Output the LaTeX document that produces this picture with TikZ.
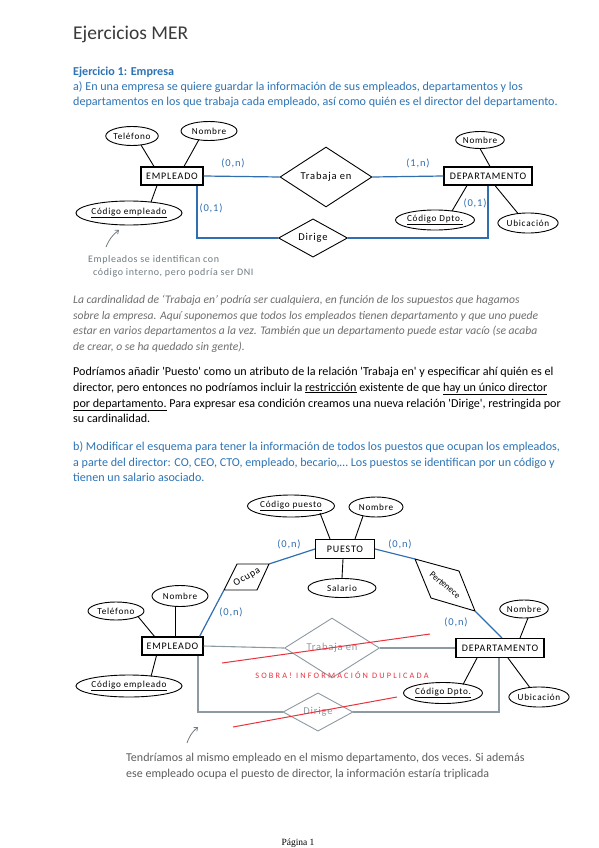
\documentclass[tikz,border=0pt]{standalone}
\usepackage{fontspec}
\setmainfont{Carlito}
\newfontfamily\handfont[LetterSpace=8]{Carlito}
\newfontfamily\notefont[LetterSpace=6]{Carlito}
\newfontfamily\plainhand{Carlito}
\newfontfamily\spacedfont[LetterSpace=26]{Carlito}
\newfontfamily\pagefont{Liberation Serif}
\usetikzlibrary{shapes.geometric,arrows.meta}
\definecolor{hblue}{HTML}{2E74B5}
\definecolor{dblue}{HTML}{2F6EB1}
\definecolor{itgray}{HTML}{6E6E6E}
\definecolor{dgray}{HTML}{8D9AA1}
\definecolor{rred}{HTML}{E8333F}
\definecolor{ngray}{HTML}{6F7A80}
\definecolor{titlegray}{HTML}{3A3A3A}
\definecolor{btgray}{HTML}{5E5E5E}
\newcommand{\bodysize}{\fontsize{12.1}{14}\selectfont}
\newcommand{\itsize}{\fontsize{11.6}{14}\selectfont}
\newcommand{\bluesize}{\fontsize{12.1}{14}\selectfont}
\newcommand{\sq}{\textquotesingle}
\begin{document}
\begin{tikzpicture}[x=1pt,y=-1pt,
  txt/.style={anchor=base west, inner sep=0pt, font=\bodysize},
  itxt/.style={anchor=base west, inner sep=0pt, font=\itsize\itshape, text=itgray},
  btxt/.style={anchor=base west, inner sep=0pt, font=\bluesize, text=hblue},
  entity/.style={draw, line width=1.1pt, rectangle, inner sep=0pt, font=\handfont\fontsize{10}{11}\selectfont},
  attr/.style={draw, ellipse, inner sep=0pt, line width=0.9pt, font=\handfont\fontsize{9.2}{10}\selectfont},
  rel/.style={draw, diamond, inner sep=0pt, line width=0.9pt, font=\handfont\fontsize{10.5}{11}\selectfont},
  grel/.style={rel, draw=dgray, text=dgray},
  conn/.style={line width=0.9pt},
  bconn/.style={draw=dblue, line width=1.2pt},
  gconn/.style={draw=dgray, line width=1.1pt},
  card/.style={text=dblue, inner sep=0pt, font=\handfont\fontsize{10.5}{11}\selectfont},
  notetxt/.style={anchor=base west, inner sep=0pt, text=ngray, font=\notefont\fontsize{10}{11}\selectfont},
  notearrow/.style={draw=ngray, line width=0.8pt, -{Straight Barb[length=3pt,width=5pt]}},
  redline/.style={draw=rred, line width=1pt}
]
\fill[white] (0,0) rectangle (599,848);
\useasboundingbox (0,0) rectangle (599,848);

% ---------- texts ----------
\node[txt, font=\fontsize{19.5}{22}\selectfont, text=titlegray] (title) at (73,40) {Ejercicios MER};
\node[btxt, font=\bluesize\bfseries] (ej1) at (73,76) {Ejercicio 1: Empresa};
\node[btxt] (a1) at (73,91) {a) En una empresa se quiere guardar la información de sus empleados, departamentos y los};
\node[btxt] (a2) at (73,106) {departamentos en los que trabaja cada empleado, así como quién es el director del departamento.};

\node[itxt] (i1) at (73,303) {La cardinalidad de ‘Trabaja en’ podría ser cualquiera, en función de los supuestos que hagamos};
\node[itxt] (i2) at (73,319) {sobre la empresa. Aquí suponemos que todos los empleados tienen departamento y que uno puede};
\node[itxt] (i3) at (73,334) {estar en varios departamentos a la vez. También que un departamento puede estar vacío (se acaba};
\node[itxt] (i4) at (73,350) {de crear, o se ha quedado sin gente).};

\node[txt] (p1) at (73,375) {Podríamos añadir \sq Puesto\sq{} como un atributo de la relación \sq Trabaja en\sq{} y especificar ahí quién es el};
\node[txt] (p2) at (73,391) {director, pero entonces no podríamos incluir la \underline{restricción} existente de que \underline{hay un único director}};
\node[txt] (p3) at (73,407) {\underline{por departamento.} Para expresar esa condición creamos una nueva relación \sq Dirige\sq, restringida por};
\node[txt] (p4) at (73,422) {su cardinalidad.};

\node[btxt] (b1) at (73,450) {b) Modificar el esquema para tener la información de todos los puestos que ocupan los empleados,};
\node[btxt] (b2) at (73,466) {a parte del director: CO, CEO, CTO, empleado, becario,… Los puestos se identifican por un código y};
\node[btxt] (b3) at (73,481) {tienen un salario asociado.};

\node[txt, font=\fontsize{12}{14}\selectfont, text=btgray] (q1) at (126,761) {Tendríamos al mismo empleado en el mismo departamento, dos veces. Si además};
\node[txt, font=\fontsize{12}{14}\selectfont, text=btgray] (q2) at (126,777) {ese empleado ocupa el puesto de director, la información estaría triplicada};

\node[anchor=base, inner sep=0pt, font=\pagefont\fontsize{9.5}{11}\selectfont] (pg) at (298,845) {Página 1};

% ---------- top diagram ----------
\node[entity, minimum width=62, minimum height=18] (emp) at (172,176) {EMPLEADO};
\node[attr, minimum width=52, minimum height=19] (tel) at (132,136) {Teléfono};
\node[attr, minimum width=56, minimum height=19] (nom) at (209,131) {Nombre};
\node[attr, minimum width=92, minimum height=24] (cod) at (129,213) {\underline{Código empleado}};
\node[rel, minimum width=92, minimum height=39] (trab) at (326,177) {Trabaja en};
\node[entity, minimum width=88, minimum height=18] (dep) at (488,176) {DEPARTAMENTO};
\node[attr, minimum width=46, minimum height=17] (dnom) at (480,140) {Nombre};
\node[attr, minimum width=76, minimum height=20] (dcod) at (435,220) {\underline{Código Dpto.}};
\node[attr, minimum width=58, minimum height=20] (ubi) at (528,223) {Ubicación};
\node[rel, minimum width=69, minimum height=32] (dir) at (313,238) {Dirige};

\draw[conn] ([shift={(9,9)}]tel.center) -- ([xshift=-18]emp.north);
\draw[conn] ([shift={(-10,8.5)}]nom.center) -- ([xshift=12]emp.north);
\draw[conn] ([xshift=-15]emp.south) -- ([shift={(22,-11)}]cod.center);
\draw[bconn] (emp.east) -- (trab.west);
\draw[bconn] ([xshift=25]emp.south) |- (dir.west);
\draw[bconn] (trab.east) -- (dep.west);
\draw[bconn] (dep.south) |- (dir.east);
\draw[conn] ([shift={(0,8.5)}]dnom.center) -- ([xshift=2]dep.north);
\draw[conn] ([xshift=-21]dep.south) -- ([shift={(17,-9)}]dcod.center);
\draw[conn] ([xshift=7]dep.south) -- ([shift={(-10,-9.5)}]ubi.center);

\node[card] (c1) at (233,163) {(0,n)};
\node[card] (c2) at (211,208) {(0,1)};
\node[card] (c3) at (418,163) {(1,n)};
\node[card] (c4) at (475,203) {(0,1)};

\coordinate (a1t) at (106,247);
\coordinate (a1h) at (119,230);
\draw[notearrow] (a1t) to[bend left=15] (a1h);
\node[notetxt] (n1) at (88,262) {Empleados se identifican con};
\node[notetxt] (n2) at (93,275) {código interno, pero podría ser DNI};

% ---------- bottom diagram ----------
\node[attr, minimum width=77, minimum height=22] (bcp) at (291,506) {\underline{Código puesto}};
\node[attr, minimum width=54, minimum height=20] (bpn) at (376,507) {Nombre};
\node[entity, minimum width=59, minimum height=19] (pue) at (345,549) {PUESTO};
\node[attr, minimum width=68, minimum height=19] (sal) at (342,588) {Salario};
\draw[conn] ([shift={(29,7)}]bcp.center) -- ([xshift=-15]pue.north);
\draw[conn] ([shift={(-13,9)}]bpn.center) -- ([xshift=10]pue.north);
\draw[conn] ([xshift=-2]pue.south) -- (sal.north);

\node[entity, minimum width=61, minimum height=18] (emp2) at (172.5,646) {EMPLEADO};
\node[attr, minimum width=56, minimum height=18] (btel) at (116,611) {Teléfono};
\node[attr, minimum width=56, minimum height=21] (bnom) at (180,596) {Nombre};
\node[attr, minimum width=94, minimum height=22] (bcod) at (129,686) {\underline{Código empleado}};
\draw[conn] ([shift={(22,5.5)}]btel.center) -- ([xshift=-18]emp2.north);
\draw[conn] ([shift={(-5,10.5)}]bnom.center) -- ([xshift=2.5]emp2.north);
\draw[conn] ([xshift=-16]emp2.south) -- ([shift={(22,-9.5)}]bcod.center);

\node[entity, minimum width=88, minimum height=19] (dep2) at (500,648) {DEPARTAMENTO};
\node[attr, minimum width=48, minimum height=18] (bdnom) at (524,609) {Nombre};
\node[attr, minimum width=76, minimum height=21] (bdcod) at (443,693) {\underline{Código Dpto.}};
\node[attr, minimum width=56, minimum height=20] (bubi) at (539,697) {Ubicación};
\draw[conn] ([shift={(4,9)}]bdnom.center) -- ([xshift=20]dep2.north);
\draw[conn] ([xshift=-23]dep2.south) -- ([shift={(20,-8.5)}]bdcod.center);
\draw[conn] ([xshift=8]dep2.south) -- ([shift={(-9,-9.3)}]bubi.center);

\node[grel, minimum width=95, minimum height=40] (trab2) at (332,648) {Trabaja en};
\node[grel, minimum width=70, minimum height=30] (dir2) at (318,712) {Dirige};
\draw[gconn] (emp2.east) -- (trab2.west);
\draw[gconn] (trab2.east) -- (dep2.west);
\draw[gconn] ([xshift=25.5]emp2.south) |- (dir2.west);
\draw[gconn] ([xshift=-1]dep2.south) |- (dir2.east);

% Ocupa (skewed diamond)
\node[inner sep=0pt, rotate=31, font=\handfont\fontsize{10}{10}\selectfont] (ocu) at (247,577) {Ocupa};
\draw[line width=0.9pt] ([shift={(-10,-13)}]ocu.center) -- ([shift={(22,-13)}]ocu.center) -- ([shift={(10,13)}]ocu.center) -- ([shift={(-23,13)}]ocu.center) -- cycle;
\coordinate (ocuB) at ([shift={(22,-13)}]ocu.center);
\coordinate (ocuD) at ([shift={(-23,13)}]ocu.center);
\draw[bconn] (pue.west) -- (ocuB);
\draw[bconn] (ocuD) -- ([xshift=-4]emp2.north east);

% Pertenece (skewed diamond)
\node[inner sep=0pt, rotate=-40, font=\plainhand\fontsize{9}{10}\selectfont] (per) at (445,585) {Pertenece};
\draw[line width=0.9pt] ([shift={(-30,-26)}]per.center) -- ([shift={(14,-14)}]per.center) -- ([shift={(30,26)}]per.center) -- ([shift={(-14,13)}]per.center) -- cycle;
\coordinate (perT) at ([shift={(-30,-26)}]per.center);
\coordinate (perB) at ([shift={(30,26)}]per.center);
\draw[bconn] (pue.east) -- (perT);
\draw[bconn] (perB) -- ([xshift=2]dep2.north);

\node[card] (bc1) at (289,544) {(0,n)};
\node[card] (bc2) at (231,612) {(0,n)};
\node[card] (bc3) at (400,544) {(0,n)};
\node[card] (bc4) at (456,622) {(0,n)};

% red strike-throughs
\coordinate (r1a) at (222,663);
\coordinate (r1b) at (430,634);
\coordinate (r2a) at (233,727);
\coordinate (r2b) at (397,697);
\draw[redline] (r1a) -- (r1b);
\draw[redline] (r2a) -- (r2b);
\node[inner sep=0pt, text=rred, font=\spacedfont\fontsize{8.3}{9}\selectfont] (sobra) at (342,675) {SOBRA! INFORMACIÓN DUPLICADA};

\coordinate (a2t) at (187,743);
\coordinate (a2h) at (198,727);
\draw[notearrow] (a2t) to[bend left=15] (a2h);
\end{tikzpicture}
\end{document}
